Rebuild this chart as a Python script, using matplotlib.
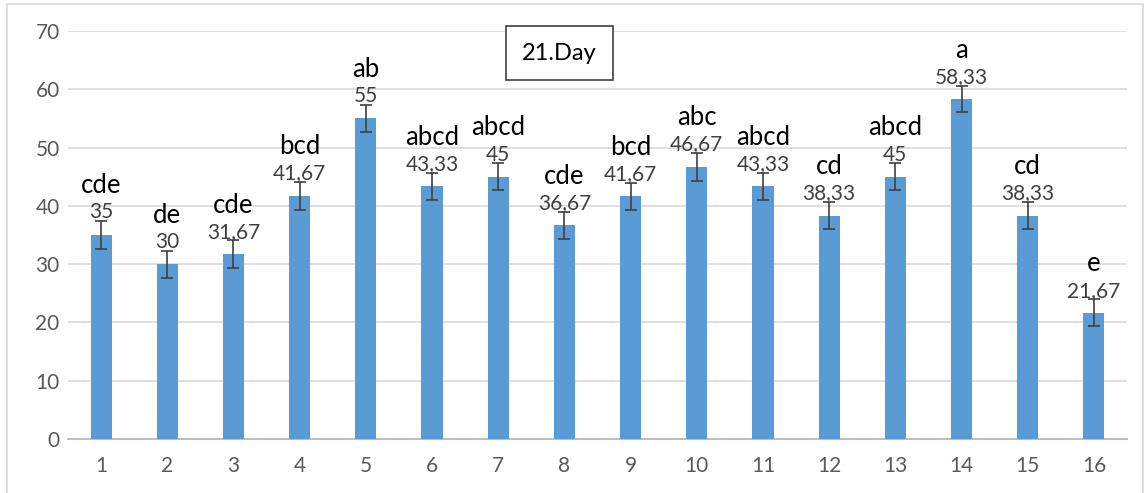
import matplotlib
matplotlib.use("Agg")
import matplotlib.pyplot as plt
from matplotlib.patches import Rectangle

# data
groups = [str(i) for i in range(1, 17)]
means = [35, 30, 31.67, 41.67, 55, 43.33, 45, 36.67, 41.67, 46.67, 43.33, 38.33, 45, 58.33, 38.33, 21.67]
errors = [2.4, 2.3, 2.4, 2.4, 2.3, 2.3, 2.3, 2.3, 2.3, 2.4, 2.3, 2.3, 2.3, 2.3, 2.3, 2.3]
letters = ["cde", "de", "cde", "bcd", "ab", "abcd", "abcd", "cde", "bcd", "abc", "abcd", "cd", "abcd", "a", "cd", "e"]
value_labels = ["35", "30", "31,67", "41,67", "55", "43,33", "45", "36,67", "41,67", "46,67",
                "43,33", "38,33", "45", "58,33", "38,33", "21,67"]

plt.rcParams['font.family'] = ['Lato', 'DejaVu Sans']

fig = plt.figure(figsize=(11.48, 4.93), dpi=100)
ax = fig.add_axes([68/1148, 54/493, 1059/1148, 408/493])

x = list(range(len(groups)))
ax.bar(x, means, width=0.32, color="#5b9bd5", zorder=3)
ax.errorbar(x, means, yerr=errors, fmt="none", ecolor="#404040", elinewidth=1.2,
            capsize=4.5, capthick=1.2, zorder=4)

for xi, m, e, v, l in zip(x, means, errors, value_labels, letters):
    ax.annotate(v, (xi, m + e), xytext=(0, -1), textcoords="offset points",
                ha="center", va="bottom", fontsize=15, color="#404040", zorder=5)
    ax.annotate(l, (xi, m + e), xytext=(0, 16.5), textcoords="offset points",
                ha="center", va="bottom", fontsize=18.5, color="black", zorder=5)

ax.set_xlim(-0.5, len(groups) - 0.5)
ax.set_ylim(0, 70)
ax.set_yticks(range(0, 71, 10))
ax.set_xticks(x)
ax.set_xticklabels(groups)
ax.grid(axis="y", color="#d9d9d9", linewidth=1.2, zorder=0)
ax.set_axisbelow(True)
for s in ["top", "right", "left"]:
    ax.spines[s].set_visible(False)
ax.spines["bottom"].set_color("#bfbfbf")
ax.spines["bottom"].set_linewidth(1.5)
ax.tick_params(axis="both", length=0, labelsize=15, labelcolor="#595959")
ax.tick_params(axis="x", pad=12)
ax.tick_params(axis="y", pad=6)

ax.text(0.464, 0.946, "21.Day", transform=ax.transAxes, ha="center", va="center",
        fontsize=17, color="black",
        bbox=dict(boxstyle="square,pad=0.7", facecolor="white", edgecolor="#404040", linewidth=1.2))

# outer chart border
fig.patches.append(Rectangle((7/1148, -0.02), 1136/1148, 1 - 4/493 + 0.02,
                             transform=fig.transFigure, fill=False,
                             edgecolor="#d9d9d9", linewidth=1.2))

fig.savefig("out.png", dpi=100)
